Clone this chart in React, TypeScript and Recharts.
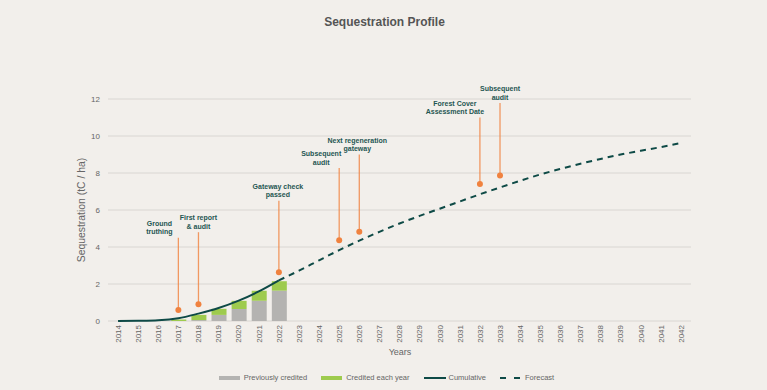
import {
  ComposedChart,
  Bar,
  Line,
  XAxis,
  YAxis,
  CartesianGrid,
  ReferenceLine,
  ReferenceDot,
  Label,
} from 'recharts';

const years = [
  '2014', '2015', '2016', '2017', '2018', '2019', '2020', '2021', '2022', '2023',
  '2024', '2025', '2026', '2027', '2028', '2029', '2030', '2031', '2032', '2033',
  '2034', '2035', '2036', '2037', '2038', '2039', '2040', '2041', '2042',
];

// stacked bars (tC / ha)
const previouslyCredited = [null, null, null, 0, 0.05, 0.33, 0.65, 1.09, 1.64];
const creditedEachYear = [null, null, null, 0.08, 0.28, 0.33, 0.44, 0.55, 0.51];

// solid cumulative line up to 2022, dashed forecast from 2022 on
const cumulative = [0, 0.01, 0.04, 0.15, 0.4, 0.7, 1.1, 1.6, 2.2];
const forecast = [
  2.2, 2.72, 3.28, 3.83, 4.34, 4.82, 5.27, 5.68, 6.07, 6.46, 6.85, 7.22, 7.58, 7.92, 8.22,
  8.5, 8.76, 9.0, 9.2, 9.4, 9.62,
];

const yTicks = [0, 2, 4, 6, 8, 10, 12];

// milestones
const milestoneYears = ['2017', '2018', '2022', '2025', '2026', '2032', '2033'];
const milestoneDots = [0.6, 0.9, 2.63, 4.37, 4.82, 7.4, 7.87];
const milestoneTops = [4.5, 4.8, 6.5, 8.27, 9.0, 11.0, 11.78];
const milestoneLabels = [
  ['Ground', 'truthing'],
  ['First report', '& audit'],
  ['Gateway check', 'passed'],
  ['Subsequent', 'audit'],
  ['Next regeneration', 'gateway'],
  ['Forest Cover', 'Assessment Date'],
  ['Subsequent', 'audit'],
];
// horizontal nudge of each label in px
const labelShift = [-19, 0, -1, -18, -2, -25, 0];

const BG = '#f2efeb';
const GREY = '#b4b3b1';
const GREEN = '#9ecb4e';
const TEAL = '#0e4a46';
const ORANGE = '#f0823f';
const TEXT = '#666666';
const FONT = '"Liberation Sans", Arial, sans-serif';

const data = years.map((year, i) => ({
  year,
  prev: previouslyCredited[i] ?? null,
  credited: creditedEachYear[i] ?? null,
  cumulative: cumulative[i] ?? null,
  forecast: i >= 8 ? forecast[i - 8] : null,
}));

const XTick = (props: any) => {
  const { x, y, payload } = props;
  return (
    <text
      x={x}
      y={y}
      transform={`rotate(-90, ${x}, ${y})`}
      textAnchor="end"
      dy="0.35em"
      fontSize={8}
      fill={TEXT}
      fontFamily={FONT}
    >
      {payload.value}
    </text>
  );
};

const legendItems = [
  { label: 'Previously credited', kind: 'bar', color: GREY },
  { label: 'Credited each year', kind: 'bar', color: GREEN },
  { label: 'Cumulative', kind: 'line', color: TEAL },
  { label: 'Forecast', kind: 'dash', color: TEAL },
];

export default function App() {
  return (
    <div
      style={{
        position: 'absolute',
        left: 0,
        top: 0,
        width: 767,
        height: 390,
        background: BG,
        fontFamily: FONT,
      }}
    >
      <div
        style={{
          position: 'absolute',
          top: 15,
          left: 0,
          width: 767,
          textAlign: 'center',
          fontSize: 12,
          fontWeight: 'bold',
          color: '#555555',
          paddingLeft: 2,
          boxSizing: 'border-box',
        }}
      >
        Sequestration Profile
      </div>
      <ComposedChart
        width={767}
        height={390}
        data={data}
        margin={{ top: 99, right: 76, left: 0, bottom: 29 }}
        barSize={15}
      >
        <CartesianGrid vertical={false} stroke="#d9d6d2" strokeWidth={1} />
        <XAxis
          dataKey="year"
          interval={0}
          axisLine={false}
          tickLine={false}
          tickSize={4}
          tickMargin={0}
          height={40}
          tick={<XTick />}
        >
          <Label
            content={() => (
              <text x={400} y={355} textAnchor="middle" fontSize={9} fill={TEXT} fontFamily={FONT}>
                Years
              </text>
            )}
          />
        </XAxis>
        <YAxis
          domain={[0, 12]}
          ticks={yTicks}
          width={108}
          axisLine={false}
          tickLine={false}
          tick={{ fontSize: 8, fill: TEXT, fontFamily: FONT }}
        >
          <Label
            content={() => (
              <text
                x={85}
                y={210}
                transform="rotate(-90, 85, 210)"
                textAnchor="middle"
                fontSize={10.4}
                fill={TEXT}
                fontFamily={FONT}
              >
                Sequestration (tC / ha)
              </text>
            )}
          />
        </YAxis>
        <Bar dataKey="prev" stackId="a" fill={GREY} isAnimationActive={false} />
        <Bar dataKey="credited" stackId="a" fill={GREEN} isAnimationActive={false} />
        <Line
          type="monotone"
          dataKey="cumulative"
          stroke={TEAL}
          strokeWidth={2}
          dot={false}
          activeDot={false}
          isAnimationActive={false}
        />
        <Line
          type="monotone"
          dataKey="forecast"
          stroke={TEAL}
          strokeWidth={2}
          strokeDasharray="6 5"
          dot={false}
          activeDot={false}
          isAnimationActive={false}
        />
        {milestoneYears.map((yr, i) => (
          <ReferenceLine
            key={`stem-${i}`}
            segment={[
              { x: yr, y: milestoneDots[i] },
              { x: yr, y: milestoneTops[i] },
            ]}
            stroke={ORANGE}
            strokeOpacity={0.8}
            strokeWidth={1.3}
          />
        ))}
        {milestoneYears.map((yr, i) => (
          <ReferenceDot
            key={`dot-${i}`}
            x={yr}
            y={milestoneDots[i]}
            r={3}
            fill={ORANGE}
            stroke="none"
          />
        ))}
        {milestoneYears.map((yr, i) => (
          <ReferenceDot
            key={`lab-${i}`}
            x={yr}
            y={milestoneTops[i]}
            r={0}
            shape={(p: any) => (
              <text
                x={p.cx + labelShift[i]}
                y={p.cy - 12}
                textAnchor="middle"
                fontSize={7}
                fontWeight="bold"
                fill="#1f5652"
                fontFamily={FONT}
              >
                <tspan x={p.cx + labelShift[i]} dy={0}>
                  {milestoneLabels[i][0]}
                </tspan>
                <tspan x={p.cx + labelShift[i]} dy={8.5}>
                  {milestoneLabels[i][1]}
                </tspan>
              </text>
            )}
          />
        ))}
      </ComposedChart>
      <div
        style={{
          position: 'absolute',
          top: 373,
          left: 0,
          width: 767,
          display: 'flex',
          justifyContent: 'center',
          alignItems: 'center',
          gap: 14,
          fontSize: 7.5,
          color: TEXT,
          paddingLeft: 6,
          boxSizing: 'border-box',
        }}
      >
        {legendItems.map((it) => (
          <div key={it.label} style={{ display: 'flex', alignItems: 'center', gap: 3 }}>
            <svg width={22} height={6}>
              {it.kind === 'bar' && <rect x={0} y={1} width={21} height={4} fill={it.color} />}
              {it.kind === 'line' && <line x1={0} y1={3} x2={22} y2={3} stroke={it.color} strokeWidth={2} />}
              {it.kind === 'dash' && (
                <line x1={0} y1={3} x2={22} y2={3} stroke={it.color} strokeWidth={2} strokeDasharray="6 8" />
              )}
            </svg>
            <span>{it.label}</span>
          </div>
        ))}
      </div>
    </div>
  );
}
